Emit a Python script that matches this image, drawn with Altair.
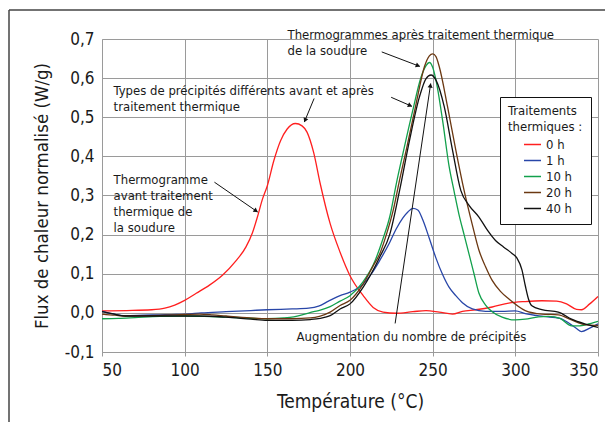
import math
import altair as alt
import pandas as pd

FONT = "DejaVu Sans Condensed, Liberation Sans Narrow, Roboto Condensed, DejaVu Sans"

SERIES = ["0 h", "1 h", "10 h", "20 h", "40 h"]
COLORS = ["#ff1f1f", "#2846a8", "#12a04c", "#6b3812", "#111111"]

X_0H = [50, 65, 80, 88, 94, 100, 107, 115, 123, 131, 137, 141, 144, 147, 150, 154, 158, 162, 167, 171,
        174, 178, 182, 188, 194, 200, 208, 214, 220, 228, 238, 246, 254, 262, 268, 276, 286, 296, 306, 316,
        325, 331, 337, 340, 345, 350]
Y_0H = [0.005, 0.006, 0.008, 0.012, 0.02, 0.032, 0.05, 0.071, 0.097, 0.133, 0.168, 0.205, 0.245, 0.29, 0.325,
        0.39, 0.44, 0.47, 0.484, 0.478, 0.462, 0.41, 0.33, 0.228, 0.155, 0.095, 0.044, 0.014, 0.002, -0.001,
        0.003, 0.006, 0.002, -0.003, 0.004, 0.008, 0.015, 0.025, 0.029, 0.031, 0.030, 0.023, 0.009, 0.008,
        0.023, 0.042]

X_1H = [50, 56, 64, 75, 85, 95, 101, 110, 125, 140, 150, 165, 175, 181, 187, 194, 200, 208, 213, 218,
        224, 228, 232, 235, 238, 241, 244, 248, 252, 256, 260, 264, 268, 274, 282, 292, 300, 306, 317, 327,
        333, 337, 340, 345, 350]
Y_1H = [0.004, -0.002, -0.007, -0.006, -0.005, -0.004, -0.003, 0.0, 0.003, 0.006, 0.008, 0.010, 0.012, 0.017,
        0.030, 0.044, 0.053, 0.074, 0.1, 0.134, 0.18, 0.215, 0.243, 0.258, 0.267, 0.263, 0.238, 0.19, 0.14,
        0.098, 0.065, 0.044, 0.026, 0.010, 0.004, 0.004, 0.005, -0.002, -0.009, -0.014, -0.028, -0.040,
        -0.048, -0.039, -0.028]

X_10H = [50, 60, 70, 85, 100, 112, 125, 140, 150, 160, 166, 172, 178, 182, 188, 194, 200, 208, 214, 220,
         224, 228, 232, 238, 243, 246, 248, 250, 252, 256, 260, 263, 266, 269, 272, 275, 278, 282, 286, 292,
         300, 306, 314, 320, 327, 334, 339, 343, 350]
Y_10H = [-0.015, -0.014, -0.012, -0.009, -0.008, -0.009, -0.011, -0.014, -0.015, -0.013, -0.010, -0.004,
         0.003, 0.007, 0.016, 0.030, 0.044, 0.080, 0.122, 0.19, 0.245, 0.33, 0.407, 0.518, 0.603, 0.632,
         0.640, 0.628, 0.595, 0.492, 0.373, 0.31, 0.25, 0.2, 0.15, 0.1, 0.05, 0.02, 0.003, -0.011, -0.018,
         -0.016, -0.010, -0.009, -0.014, -0.033, -0.033, -0.030, -0.022]

X_20H = [50, 58, 65, 80, 95, 109, 117, 125, 140, 150, 165, 176, 182, 188, 194, 200, 208, 214, 218, 222,
         226, 230, 234, 240, 245, 248, 250, 252, 254, 259, 264, 269, 274, 278, 282, 286, 291, 296, 306, 316,
         326, 334, 342, 350]
Y_20H = [-0.003, -0.006, -0.008, -0.007, -0.005, -0.003, -0.005, -0.008, -0.013, -0.015, -0.015, -0.013,
         -0.008, 0.002, 0.019, 0.032, 0.074, 0.12, 0.151, 0.2, 0.26, 0.34, 0.416, 0.535, 0.629, 0.657, 0.662,
         0.655, 0.629, 0.527, 0.416, 0.313, 0.225, 0.16, 0.118, 0.083, 0.055, 0.036, 0.006, -0.003, -0.005,
         -0.018, -0.030, -0.032]

X_40H = [50, 56, 64, 85, 109, 125, 140, 150, 165, 176, 182, 188, 194, 200, 208, 218, 224, 230, 236, 242,
         246, 249, 252, 257, 262, 267, 272, 278, 283, 288, 293, 298, 301, 304, 306, 308, 310, 316, 326, 334,
         342, 350]
Y_40H = [0.003, -0.002, -0.008, -0.008, -0.008, -0.011, -0.016, -0.019, -0.019, -0.017, -0.014, -0.007,
         0.010, 0.023, 0.066, 0.143, 0.2, 0.313, 0.441, 0.552, 0.599, 0.608, 0.595, 0.527, 0.416, 0.313,
         0.275, 0.245, 0.212, 0.185, 0.168, 0.152, 0.14, 0.11, 0.07, 0.035, 0.018, 0.008, 0.002, -0.016,
         -0.028, -0.037]

TEXT_LINES = ["Thermogrammes après traitement thermique", "de la soudure",
              "Types de précipités différents avant et après", "traitement thermique",
              "Thermogramme", "avant traitement", "thermique de", "la soudure",
              "Augmentation du nombre de précipités"]
TEXT_X = [162.2, 162.2, 57.0, 57.0, 57.0, 57.0, 57.0, 57.0, 167.7]
TEXT_Y = [0.710, 0.669, 0.567, 0.526, 0.339, 0.298, 0.257, 0.216, -0.061]

ARROW_X1 = [219.2, 224.9, 178.3, 118.0, 227.3]
ARROW_Y1 = [0.667, 0.551, 0.548, 0.334, -0.027]
ARROW_X2 = [242.2, 237.4, 172.4, 144.1, 248.8]
ARROW_Y2 = [0.630, 0.528, 0.488, 0.258, 0.586]

Y_TICKS = [-0.1, 0.0, 0.1, 0.2, 0.3, 0.4, 0.5, 0.6, 0.7]
X_TICKS = [50, 100, 150, 200, 250, 300, 350]

W, H = 496, 313

rows = []
for name, xs, ys in zip(SERIES, [X_0H, X_1H, X_10H, X_20H, X_40H], [Y_0H, Y_1H, Y_10H, Y_20H, Y_40H]):
    for x, y in zip(xs, ys):
        rows.append({"T": x, "F": y, "S": name})
df = pd.DataFrame(rows)

text_df = pd.DataFrame({"T": TEXT_X, "F": TEXT_Y, "txt": TEXT_LINES})
arrow_df = pd.DataFrame({"T": ARROW_X1, "F": ARROW_Y1, "T2": ARROW_X2, "F2": ARROW_Y2})

sx, sy = W / 300.0, H / 0.8
heads = []
for x1, y1, x2, y2 in zip(ARROW_X1, ARROW_Y1, ARROW_X2, ARROW_Y2):
    dx, dy = (x2 - x1) * sx, (y2 - y1) * sy
    L = math.hypot(dx, dy)
    ux, uy = dx / L, dy / L
    ang = math.degrees(math.atan2(dx, dy)) % 360
    back = 2.6
    heads.append({"T": x2 - ux * back / sx, "F": y2 - uy * back / sy, "ang": ang})
head_df = pd.DataFrame(heads)

x_scale = alt.Scale(domain=[50, 350], nice=False)
y_scale = alt.Scale(domain=[-0.1, 0.7], nice=False)

x_axis = alt.Axis(values=X_TICKS, grid=True, gridColor="#9a9a9a", gridWidth=1, domainColor="#9a9a9a",
                  ticks=True, tickColor="#9a9a9a", tickSize=4, labelFont=FONT, labelFontSize=17,
                  labelColor="#1a1a1a", labelPadding=6, titleFont=FONT, titleFontSize=19,
                  titleFontWeight="normal", titleColor="#1a1a1a", titlePadding=14)
y_axis = alt.Axis(values=Y_TICKS, grid=True, gridColor="#9a9a9a", gridWidth=1, domainColor="#9a9a9a",
                  ticks=False, labelFont=FONT, labelFontSize=17, labelColor="#1a1a1a", labelPadding=8,
                  labelExpr="replace(replace(format(datum.value, '.1f'), '.', ','), '\u2212', '-')",
                  titleFont=FONT, titleFontSize=18.5, titleFontWeight="normal", titleColor="#1a1a1a",
                  titlePadding=13)

X_ENC = alt.X("T:Q", scale=x_scale, axis=x_axis, title="Température (°C)")
Y_ENC = alt.Y("F:Q", scale=y_scale, axis=y_axis, title="Flux de chaleur normalisé (W/g)")

lines = alt.Chart(df).mark_line(strokeWidth=1.3, interpolate="monotone").encode(
    x=X_ENC, y=Y_ENC,
    color=alt.Color("S:N", scale=alt.Scale(domain=SERIES, range=COLORS),
                    legend=alt.Legend(orient="none", legendX=398, legendY=58,
                                      title=["Traitements", "thermiques :"],
                                      titleFont=FONT, titleFontSize=13, titleFontWeight="normal",
                                      titleColor="#1a1a1a", titleLineHeight=16, titlePadding=2,
                                      labelFont=FONT, labelFontSize=13, labelColor="#1a1a1a",
                                      labelAlign="left", columns=1, gridAlign="all",
                                      symbolType="M1,0H3.27", symbolSize=225, symbolStrokeWidth=1.5,
                                      symbolFillColor="transparent",
                                      labelOffset=21, rowPadding=0,
                                      strokeColor="#111111", fillColor="#ffffff", padding=8)),
)

texts = alt.Chart(text_df).mark_text(align="left", baseline="middle", font=FONT, fontSize=13,
                                     color="#1a1a1a").encode(x=X_ENC, y=Y_ENC, text="txt:N")

arrows = alt.Chart(arrow_df).mark_rule(color="#111111", strokeWidth=1).encode(
    x=X_ENC, y=Y_ENC, x2="T2:Q", y2="F2:Q")

arrowheads = alt.Chart(head_df).mark_point(shape="triangle", filled=True, size=26, color="#111111",
                                           opacity=1).encode(
    x=X_ENC, y=Y_ENC, angle=alt.Angle("ang:Q", scale=None))

frame_top = alt.Chart(alt.Data(values=[{}])).mark_rule(color="#444444", strokeWidth=1.5).encode(
    x=alt.value(-93), x2=alt.value(540), y=alt.value(-29))
frame_left = alt.Chart(alt.Data(values=[{}])).mark_rule(color="#444444", strokeWidth=1.5).encode(
    x=alt.value(-93), y=alt.value(-29), y2=alt.value(420))

chart = alt.layer(frame_top, frame_left, lines, arrows, arrowheads, texts).properties(
    width=W, height=H, autosize="none",
    padding={"left": 94, "top": 31, "right": 7, "bottom": 70},
).configure(font=FONT).configure_view(stroke=None)

chart.save("out.html", embed_options={"renderer": "svg", "actions": False})
